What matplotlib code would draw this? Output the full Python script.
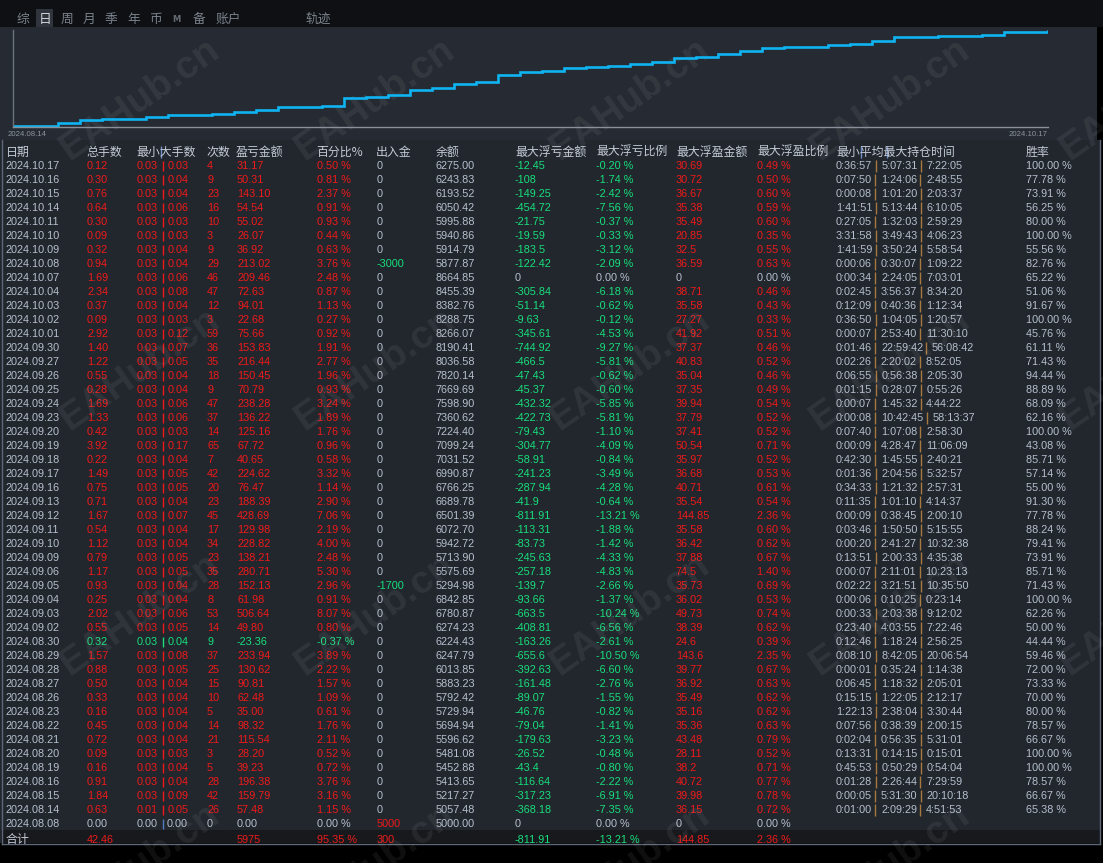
import numpy as np
import matplotlib
matplotlib.use("Agg")
import matplotlib.pyplot as plt
from matplotlib.patches import Rectangle

W, H = 1103, 863

# ---- table data (top row = latest day) ----
dates = ["2024.10.17", "2024.10.16", "2024.10.15", "2024.10.14", "2024.10.11", "2024.10.10",
         "2024.10.09", "2024.10.08", "2024.10.07", "2024.10.04", "2024.10.03", "2024.10.02",
         "2024.10.01", "2024.09.30", "2024.09.27", "2024.09.26", "2024.09.25", "2024.09.24",
         "2024.09.23", "2024.09.20", "2024.09.19", "2024.09.18", "2024.09.17", "2024.09.16",
         "2024.09.13", "2024.09.12", "2024.09.11", "2024.09.10", "2024.09.09", "2024.09.06",
         "2024.09.05", "2024.09.04", "2024.09.03", "2024.09.02", "2024.08.30", "2024.08.29",
         "2024.08.28", "2024.08.27", "2024.08.26", "2024.08.23", "2024.08.22", "2024.08.21",
         "2024.08.20", "2024.08.19", "2024.08.16", "2024.08.15", "2024.08.14", "2024.08.08"]
lots = [0.12, 0.30, 0.76, 0.64, 0.30, 0.09, 0.32, 0.94, 1.69, 2.34, 0.37, 0.09, 2.92, 1.40,
        1.22, 0.55, 0.28, 1.69, 1.33, 0.42, 3.92, 0.22, 1.49, 0.75, 0.71, 1.67, 0.54, 1.12,
        0.79, 1.17, 0.93, 0.25, 2.02, 0.55, 0.32, 1.57, 0.88, 0.50, 0.33, 0.16, 0.45, 0.72,
        0.09, 0.16, 0.91, 1.84, 0.63, 0.00]
min_lot = [0.03] * 46 + [0.01, 0.00]
max_lot = [0.03, 0.04, 0.04, 0.06, 0.03, 0.03, 0.04, 0.04, 0.06, 0.08, 0.04, 0.03, 0.12, 0.07,
           0.05, 0.04, 0.04, 0.06, 0.06, 0.03, 0.17, 0.04, 0.05, 0.05, 0.04, 0.07, 0.04, 0.04,
           0.05, 0.05, 0.04, 0.04, 0.06, 0.05, 0.04, 0.08, 0.05, 0.04, 0.04, 0.04, 0.04, 0.04,
           0.03, 0.04, 0.04, 0.09, 0.05, 0.00]
trades = [4, 9, 23, 16, 10, 3, 9, 29, 46, 47, 12, 3, 59, 36, 35, 18, 9, 47, 37, 14, 65, 7, 42,
          20, 23, 45, 17, 34, 23, 35, 28, 8, 53, 14, 9, 37, 25, 15, 10, 5, 14, 21, 3, 5, 28, 42,
          26, 0]
pnl = [31.17, 50.31, 143.10, 54.54, 55.02, 26.07, 36.92, 213.02, 209.46, 72.63, 94.01, 22.68,
       75.66, 153.83, 216.44, 150.45, 70.79, 238.28, 136.22, 125.16, 67.72, 40.65, 224.62,
       76.47, 188.39, 428.69, 129.98, 228.82, 138.21, 280.71, 152.13, 61.98, 506.64, 49.80,
       -23.36, 233.94, 130.62, 90.81, 62.48, 35.00, 98.32, 115.54, 28.20, 39.23, 196.38,
       159.79, 57.48, 0.00]
pnl_pct = [0.50, 0.81, 2.37, 0.91, 0.93, 0.44, 0.63, 3.76, 2.48, 0.87, 1.13, 0.27, 0.92, 1.91,
           2.77, 1.96, 0.93, 3.24, 1.89, 1.76, 0.96, 0.58, 3.32, 1.14, 2.90, 7.06, 2.19, 4.00,
           2.48, 5.30, 2.96, 0.91, 8.07, 0.80, -0.37, 3.89, 2.22, 1.57, 1.09, 0.61, 1.76, 2.11,
           0.52, 0.72, 3.76, 3.16, 1.15, 0.00]
cash = [0] * 48
cash[7] = -3000
cash[30] = -1700
cash[47] = 5000
balance = [6275.00, 6243.83, 6193.52, 6050.42, 5995.88, 5940.86, 5914.79, 5877.87, 8664.85,
           8455.39, 8382.76, 8288.75, 8266.07, 8190.41, 8036.58, 7820.14, 7669.69, 7598.90,
           7360.62, 7224.40, 7099.24, 7031.52, 6990.87, 6766.25, 6689.78, 6501.39, 6072.70,
           5942.72, 5713.90, 5575.69, 5294.98, 6842.85, 6780.87, 6274.23, 6224.43, 6247.79,
           6013.85, 5883.23, 5792.42, 5729.94, 5694.94, 5596.62, 5481.08, 5452.88, 5413.65,
           5217.27, 5057.48, 5000.00]
float_loss = [-12.45, -108, -149.25, -454.72, -21.75, -19.59, -183.5, -122.42, 0, -305.84,
              -51.14, -9.63, -345.61, -744.92, -466.5, -47.43, -45.37, -432.32, -422.73,
              -79.43, -304.77, -58.91, -241.23, -287.94, -41.9, -811.91, -113.31, -83.73,
              -245.63, -257.18, -139.7, -93.66, -663.5, -408.81, -163.26, -655.6, -392.63,
              -161.48, -89.07, -46.76, -79.04, -179.63, -26.52, -43.4, -116.64, -317.23,
              -368.18, 0]
float_loss_pct = [-0.20, -1.74, -2.42, -7.56, -0.37, -0.33, -3.12, -2.09, 0.00, -6.18, -0.62,
                  -0.12, -4.53, -9.27, -5.81, -0.62, -0.60, -5.85, -5.81, -1.10, -4.09, -0.84,
                  -3.49, -4.28, -0.64, -13.21, -1.88, -1.42, -4.33, -4.83, -2.66, -1.37,
                  -10.24, -6.56, -2.61, -10.50, -6.60, -2.76, -1.55, -0.82, -1.41, -3.23,
                  -0.48, -0.80, -2.22, -6.91, -7.35, 0.00]
float_profit = [30.69, 30.72, 36.67, 35.38, 35.49, 20.85, 32.5, 36.59, 0, 38.71, 35.58, 27.27,
                41.92, 37.37, 40.83, 35.04, 37.35, 39.94, 37.79, 37.41, 50.54, 35.97, 36.68,
                40.71, 35.54, 144.85, 35.58, 36.42, 37.88, 74.5, 35.73, 36.02, 49.73, 38.39,
                24.6, 143.6, 39.77, 36.92, 35.49, 35.16, 35.36, 43.48, 28.11, 38.2, 40.72,
                39.98, 36.15, 0]
float_profit_pct = [0.49, 0.50, 0.60, 0.59, 0.60, 0.35, 0.55, 0.63, 0.00, 0.46, 0.43, 0.33,
                    0.51, 0.46, 0.52, 0.46, 0.49, 0.54, 0.52, 0.52, 0.71, 0.52, 0.53, 0.61,
                    0.54, 2.36, 0.60, 0.62, 0.67, 1.40, 0.69, 0.53, 0.74, 0.62, 0.39, 2.35,
                    0.67, 0.63, 0.62, 0.62, 0.63, 0.79, 0.52, 0.71, 0.77, 0.78, 0.72, 0.00]
hold_min = ["0:36:57", "0:07:50", "0:00:08", "1:41:51", "0:27:05", "3:31:58", "1:41:59",
            "0:00:06", "0:00:34", "0:02:45", "0:12:09", "0:36:50", "0:00:07", "0:01:46",
            "0:02:26", "0:06:55", "0:01:15", "0:00:07", "0:00:08", "0:07:40", "0:00:09",
            "0:42:30", "0:01:36", "0:34:33", "0:11:35", "0:00:09", "0:03:46", "0:00:20",
            "0:13:51", "0:00:07", "0:02:22", "0:00:06", "0:00:33", "0:23:40", "0:12:46",
            "0:08:10", "0:00:01", "0:06:45", "0:15:15", "1:22:13", "0:07:56", "0:02:04",
            "0:13:31", "0:45:53", "0:01:28", "0:00:05", "0:01:00", ""]
hold_avg = ["5:07:31", "1:24:06", "1:01:20", "5:13:44", "1:32:03", "3:49:43", "3:50:24",
            "0:30:07", "2:24:05", "3:56:37", "0:40:36", "1:04:05", "2:53:40", "22:59:42",
            "2:20:02", "0:56:38", "0:28:07", "1:45:32", "10:42:45", "1:07:08", "4:28:47",
            "1:45:55", "2:04:56", "1:21:32", "1:01:10", "0:38:45", "1:50:50", "2:41:27",
            "2:00:33", "2:11:01", "3:21:51", "0:10:25", "2:03:38", "4:03:55", "1:18:24",
            "8:42:05", "0:35:24", "1:18:32", "1:22:05", "2:38:04", "0:38:39", "0:56:35",
            "0:14:15", "0:50:29", "2:26:44", "5:31:30", "2:09:29", ""]
hold_max = ["7:22:05", "2:48:55", "2:03:37", "6:10:05", "2:59:29", "4:06:23", "5:58:54",
            "1:09:22", "7:03:01", "8:34:20", "1:12:34", "1:20:57", "11:30:10", "56:08:42",
            "8:52:05", "2:05:30", "0:55:26", "4:44:22", "58:13:37", "2:58:30", "11:06:09",
            "2:40:21", "5:32:57", "2:57:31", "4:14:37", "2:00:10", "5:15:55", "10:32:38",
            "4:35:38", "10:23:13", "10:35:50", "0:23:14", "9:12:02", "7:22:46", "2:56:25",
            "20:06:54", "1:14:38", "2:05:01", "2:12:17", "3:30:44", "2:00:15", "5:31:01",
            "0:15:01", "0:54:04", "7:29:59", "20:10:18", "4:51:53", ""]
win_rate = [100.00, 77.78, 73.91, 56.25, 80.00, 100.00, 55.56, 82.76, 65.22, 51.06, 91.67,
            100.00, 45.76, 61.11, 71.43, 94.44, 88.89, 68.09, 62.16, 100.00, 43.08, 85.71,
            57.14, 55.00, 91.30, 77.78, 88.24, 79.41, 73.91, 85.71, 71.43, 100.00, 62.26,
            50.00, 44.44, 59.46, 72.00, 73.33, 70.00, 80.00, 78.57, 66.67, 100.00, 100.00,
            78.57, 66.67, 65.38, None]

total_lots = "42.46"
total_pnl = "5975"
total_pct = "95.35 %"
total_cash = "300"
total_float_loss = "-811.91"
total_float_loss_pct = "-13.21 %"
total_float_profit = "144.85"
total_float_profit_pct = "2.36 %"

headers = ["日期", "总手数", "最小大手数", "次数", "盈亏金额", "百分比%", "出入金", "余额",
           "最大浮亏金额", "最大浮亏比例", "最大浮盈金额", "最大浮盈比例", "最小平均最大持仓时间", "胜率"]
tabs = ["综", "日", "周", "月", "季", "年", "币", "M", "备", "账户", "轨迹"]

# ---- colours / fonts ----
NEUTRAL = "#b6c0ce"
HEAD = "#c3cbd6"
RED = "#f01a1a"
GREEN = "#17e07c"
BAR_T = "#a8793f"
BAR_N = "#4f7fc0"
BAR_H = "#6f8fc8"
DATA = dict(family=["Liberation Sans", "DejaVu Sans"], fontsize=7.8)
CJK = dict(family=["Noto Sans CJK SC", "DejaVu Sans"], fontsize=8.6)

col_x = [6, 87, 137, 207, 237, 317, 377, 436, 515, 596, 676, 757, 836, 1026]
ROW0, ROW_H = 165, 14.0


def sign_color(v, pos=RED, neg=GREEN):
    if v > 0:
        return pos
    if v < 0:
        return neg
    return NEUTRAL


fig = plt.figure(figsize=(W / 100, H / 100), dpi=100, facecolor="black")
ax = fig.add_axes([0, 0, 1, 1])
ax.set_xlim(0, W)
ax.set_ylim(H, 0)
ax.axis("off")
renderer = fig.canvas.get_renderer()


def box(x0, y0, x1, y1, color, z=0):
    ax.add_patch(Rectangle((x0, y0), x1 - x0, y1 - y0, facecolor=color, edgecolor="none", zorder=z))


def txt(x, y, s, color, **kw):
    return ax.text(x, y, s, color=color, ha="left", va="baseline", **kw)


def right_of(t):
    # axes spans the whole figure 1:1 in pixels, so display x == data x
    return t.get_window_extent(renderer).x1


def split_cell(x, yb, pieces, colors, bar_color, pre, post, top, bottom, lw=1.0):
    # pieces separated by thin vertical bars
    for k, (s, c) in enumerate(zip(pieces, colors)):
        t = txt(x, yb, s, c, **DATA)
        if k < len(pieces) - 1:
            bx = right_of(t) + pre
            ax.plot([bx, bx], [yb - top, yb + bottom], color=bar_color, lw=lw,
                    solid_capstyle="butt")
            x = bx + post


# backgrounds
box(0, 0, W, 27, "#0e1013")
box(0, 27, 1097, 140, "#262b33")
box(0, 140, 1101, 843, "#22262d")
box(1, 830, 1100, 843, "#17191c")
ax.plot([1.5, 1.5], [140, 843.5], color="#5d6878", lw=1)
ax.plot([1.5, 1100], [843.5, 843.5], color="#5d6878", lw=1)
ax.plot([1100, 1100], [140, 843.5], color="#5d6878", lw=1)

# tab bar
tab_x = [17, 39, 61, 83, 105, 127, 149, 172, 193, 215, 305]
box(36, 9, 53, 27, "#30353d")
for s, x in zip(tabs, tab_x):
    if s == "M":
        ax.text(x, 22, s, color="#656b73", fontsize=6, family=["DejaVu Sans"],
                ha="left", va="baseline", fontweight="bold")
    else:
        ax.text(x, 23, s, color="#d2d7de" if s == "日" else "#7a828c",
                family=["Noto Sans CJK SC", "DejaVu Sans"], fontsize=9.2, ha="left", va="baseline")

# equity curve (balance without deposits/withdrawals), oldest day first
day_pnl = np.array(pnl[:-1][::-1])
start = balance[-1]
curve = np.concatenate([[start], start + np.cumsum(day_pnl)])
cax = fig.add_axes([13 / W, 1 - 127 / H, (1048 - 13) / W, (127 - 30) / H])
cax.patch.set_alpha(0)
cax.plot(np.arange(len(curve)), curve, drawstyle="steps-post", color="#0fb4f2", lw=1.9,
         solid_joinstyle="miter")
cax.set_xlim(-0.05, len(curve) - 1)
span = curve[-1] - curve[0]
cax.set_ylim(curve[0] - span * 0.006, curve[-1] + span * 0.012)
for side in ["top", "right"]:
    cax.spines[side].set_visible(False)
cax.spines["bottom"].set_color("#8a9099")
cax.spines["left"].set_color("#6c737c")
cax.spines["bottom"].set_linewidth(1.0)
cax.spines["left"].set_linewidth(1.0)
cax.set_xticks([])
cax.set_yticks([])
ax.text(8, 136.5, dates[-2], color="#8d949c", fontsize=5.6, family=["Liberation Sans"],
        ha="left", va="baseline")
ax.text(1048, 136.5, dates[0], color="#8d949c", fontsize=5.6, family=["Liberation Sans"],
        ha="right", va="baseline")

# header row
hy = 156
for i, (h, x) in enumerate(zip(headers, col_x)):
    xx = x - 1 if i in (1, 2, 3, 4, 5, 6) else x
    txt(xx, hy, h, HEAD, **CJK)
for bx in [160.5, 860.5, 886.5]:
    ax.plot([bx, bx], [146, 158], color=BAR_H, lw=1.0, solid_capstyle="butt")

# body rows
for i in range(len(dates)):
    yb = ROW0 + i * ROW_H + 4.3
    c = sign_color(pnl[i])
    txt(col_x[0], yb, dates[i], NEUTRAL, **DATA)
    txt(col_x[1], yb, f"{lots[i]:.2f}", c, **DATA)
    split_cell(col_x[2], yb, [f"{min_lot[i]:.2f}", f"{max_lot[i]:.2f}"], [c, c],
               c if c != NEUTRAL else BAR_N, 4.6, 4.4, 8.6, 1.4)
    txt(col_x[3], yb, str(trades[i]), c, **DATA)
    txt(col_x[4], yb, f"{pnl[i]:.2f}", c, **DATA)
    txt(col_x[5], yb, f"{pnl_pct[i]:.2f} %", c, **DATA)
    txt(col_x[6], yb, f"{cash[i]:g}", sign_color(cash[i]), **DATA)
    txt(col_x[7], yb, f"{balance[i]:.2f}", NEUTRAL, **DATA)
    txt(col_x[8], yb, f"{float_loss[i]:g}", sign_color(float_loss[i]), **DATA)
    txt(col_x[9], yb, f"{float_loss_pct[i]:.2f} %", sign_color(float_loss_pct[i]), **DATA)
    txt(col_x[10], yb, f"{float_profit[i]:g}", sign_color(float_profit[i]), **DATA)
    txt(col_x[11], yb, f"{float_profit_pct[i]:.2f} %", sign_color(float_profit_pct[i]), **DATA)
    if hold_min[i]:
        split_cell(col_x[12], yb, [hold_min[i], hold_avg[i], hold_max[i]], [NEUTRAL] * 3,
                   BAR_T, 3.3, 5.6, 9.0, 2.6)
    if win_rate[i] is not None:
        txt(col_x[13], yb, f"{win_rate[i]:.2f} %", NEUTRAL, **DATA)

# total row
ty = 842.5
txt(6, ty + 0.5, "合计", HEAD, **CJK)
for x, s, c in [(col_x[1], total_lots, RED), (col_x[4], total_pnl, RED),
                (col_x[5], total_pct, RED), (col_x[6], total_cash, RED),
                (col_x[8], total_float_loss, GREEN), (col_x[9], total_float_loss_pct, GREEN),
                (col_x[10], total_float_profit, RED), (col_x[11], total_float_profit_pct, RED)]:
    txt(x, ty, s, c, **DATA)

# watermark
for wy in [100, 370, 615, 865]:
    for wx in [140, 375, 630, 890, 1140]:
        ax.text(wx, wy, "EAHub.cn", color="white", alpha=0.065, fontsize=28, fontweight="bold",
                family=["Liberation Sans", "DejaVu Sans"], rotation=35, ha="center",
                va="center", rotation_mode="anchor", zorder=20)

fig.savefig("out.png", dpi=100, facecolor="black")
